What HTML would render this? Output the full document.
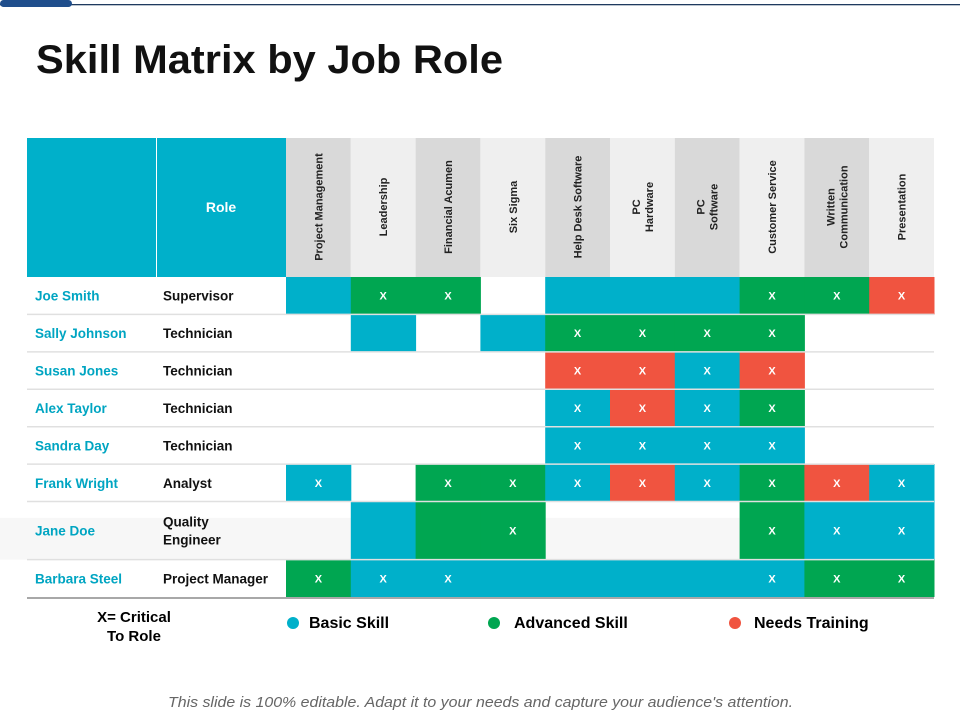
<!DOCTYPE html>
<html><head><meta charset="utf-8"><style>
html,body{margin:0;padding:0;background:#fff;}
svg{display:block;font-family:"Liberation Sans",sans-serif;}
</style></head><body>
<svg id="chart" width="960" height="720" viewBox="0 0 960 720" xmlns="http://www.w3.org/2000/svg">
<rect x="0" y="4" width="960" height="1.3" fill="#1f3a5f"/>
<rect x="0" y="0" width="72" height="7" rx="3.5" fill="#1f4e8c"/>
<text x="36" y="73" font-size="40" font-weight="bold" fill="#111" textLength="467" lengthAdjust="spacingAndGlyphs">Skill Matrix by Job Role</text>
<g id="grid"></g>
<g>
<text x="134" y="622" font-size="15" font-weight="bold" text-anchor="middle">X= Critical</text>
<text x="134" y="641" font-size="15" font-weight="bold" text-anchor="middle">To Role</text>
<circle cx="293" cy="623" r="6" fill="#00b0ca"/>
<text x="309" y="628" font-size="16" font-weight="bold">Basic Skill</text>
<circle cx="494" cy="623" r="6" fill="#00a651"/>
<text x="514" y="628" font-size="16" font-weight="bold">Advanced Skill</text>
<circle cx="735" cy="623" r="6" fill="#f05440"/>
<text x="754" y="628" font-size="16" font-weight="bold">Needs Training</text>
</g>
<text x="168" y="707" font-size="15" font-style="italic" fill="#666" textLength="625" lengthAdjust="spacingAndGlyphs">This slide is 100% editable. Adapt it to your needs and capture your audience's attention.</text>
</svg>
<script>
const skills = [["Project Management"],["Leadership"],["Financial Acumen"],["Six Sigma"],["Help Desk Software"],["PC","Hardware"],["PC","Software"],["Customer Service"],["Written","Communication"],["Presentation"]];
const names = ["Joe Smith","Sally Johnson","Susan Jones","Alex Taylor","Sandra Day","Frank Wright","Jane Doe","Barbara Steel"];
const roles = [["Supervisor"],["Technician"],["Technician"],["Technician"],["Technician"],["Analyst"],["Quality","Engineer"],["Project Manager"]];
const levels = [
 ["b","g","g","","b","b","b","g","g","r"],
 ["","b","","b","g","g","g","g","",""],
 ["","","","","r","r","b","r","",""],
 ["","","","","b","r","b","g","",""],
 ["","","","","b","b","b","b","",""],
 ["b","","g","g","b","r","b","g","r","b"],
 ["","b","g","g","","","","g","b","b"],
 ["g","b","b","b","b","b","b","b","g","g"]];
const critical = [
 [0,1,1,0,0,0,0,1,1,1],
 [0,0,0,0,1,1,1,1,0,0],
 [0,0,0,0,1,1,1,1,0,0],
 [0,0,0,0,1,1,1,1,0,0],
 [0,0,0,0,1,1,1,1,0,0],
 [1,0,1,1,1,1,1,1,1,1],
 [0,0,0,1,0,0,0,1,1,1],
 [1,1,1,0,0,0,0,1,1,1]];
const rowH = [1,1,1,1,1,1,1.55,1];

const NS="http://www.w3.org/2000/svg";
const g=document.getElementById('grid');
const colors={b:"#00b0ca",g:"#00a651",r:"#f05440"};
const x0=286,x1=934,cw=(x1-x0)/skills.length,hy0=138,hy1=277,yEnd=597;
const unit=(yEnd-hy1)/rowH.reduce((a,b)=>a+b,0);
function colX(i){return x0+i*cw;}
function rowY(i){let y=hy1;for(let k=0;k<i;k++)y+=rowH[k]*unit;return y;}
function mk(tag,attrs){const e=document.createElementNS(NS,tag);for(const k in attrs)e.setAttribute(k,attrs[k]);g.appendChild(e);return e;}
let e=mk('rect',{x:27,y:hy0,width:129,height:hy1-hy0,fill:"#00b0ca"});


e=mk('rect',{x:157,y:hy0,width:129,height:hy1-hy0,fill:"#00b0ca"});


e=mk('text',{x:221,y:212,'font-size':14,'font-weight':'bold',fill:'#fff','text-anchor':'middle'});e.textContent="Role";


skills.forEach((s,i)=>{
 const r=mk('rect',{x:colX(i),y:hy0,width:cw,height:hy1-hy0,fill:i%2?"#efefef":"#d9d9d9"});
 
 
 const cx=colX(i)+cw/2,cy=207;
 s.forEach((line,j)=>{
  const off=(j-(s.length-1)/2)*13;
  const t=mk('text',{x:0,y:0,'font-size':11,'font-weight':'bold',fill:'#222','text-anchor':'middle',transform:`translate(${cx+off+4},${cy}) rotate(-90)`});
  t.textContent=line;
  
  
 });
});
names.forEach((n,i)=>{
 const y=rowY(i),h=rowH[i]*unit;
 if(rowH[i]>1){const bg=mk('rect',{x:0,y:y+h*0.28,width:934,height:h*0.72,fill:"#f7f7f7"});
  
  }
 levels[i].forEach((lv,j)=>{
  if(lv){const c=mk('rect',{x:colX(j),y:y,width:cw+0.5,height:h,fill:colors[lv]});
   
   }
  if(critical[i][j]){const t=mk('text',{x:colX(j)+cw/2,y:y+h/2+4,'font-size':11,'font-weight':'bold',fill:'#fff','text-anchor':'middle'});
   t.textContent="X";
   
   }
 });
 const nt=mk('text',{x:35,y:y+h/2+5,'font-size':13.5,'font-weight':'bold',fill:'#00a5c2'});nt.textContent=n;
 
 
 roles[i].forEach((rl,k)=>{
  const off=(k-(roles[i].length-1)/2)*18;
  const rt=mk('text',{x:163,y:y+h/2+5+off,'font-size':13.5,'font-weight':'bold',fill:'#111'});rt.textContent=rl;
  
  
 });
 if(i>0){const ln=mk('line',{x1:27,x2:934,y1:y,y2:y,stroke:"#e0e0e0",'stroke-width':1.5});
  
  }
});
e=mk('line',{x1:27,x2:934,y1:yEnd+1,y2:yEnd+1,stroke:"#a8a8a8",'stroke-width':2});


</script>
</body></html>
